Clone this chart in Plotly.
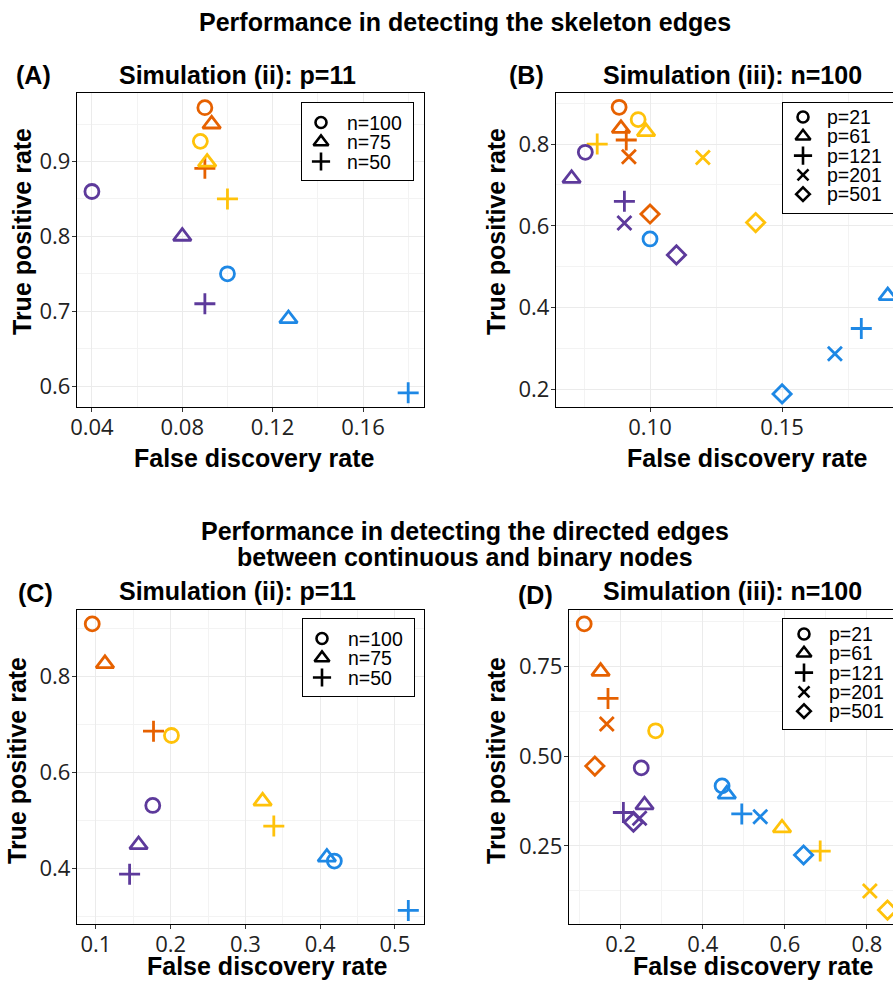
import plotly.graph_objects as go

W, H = 893, 981

# ---------------- data ----------------
method_colors = ["#E66100", "#FFC20A", "#5D3A9B", "#1E88E5"]  # orange, yellow, purple, blue

# Panel A: Simulation (ii), p=11, skeleton edges; categories n
n_labels = ["n=100", "n=75", "n=50"]
n_symbols = ["circle-open", "triangle-up-open", "cross-thin-open"]
A_fdr = [
    [0.090, 0.093, 0.090],
    [0.088, 0.091, 0.100],
    [0.040, 0.080, 0.090],
    [0.100, 0.127, 0.180],
]
A_tpr = [
    [0.972, 0.950, 0.891],
    [0.927, 0.899, 0.850],
    [0.860, 0.800, 0.710],
    [0.750, 0.690, 0.591],
]

# Panel B: Simulation (iii), n=100, skeleton edges; categories p
p_labels = ["p=21", "p=61", "p=121", "p=201", "p=501"]
p_symbols = ["circle-open", "triangle-up-open", "cross-thin-open", "x-thin-open", "diamond-open"]
B_fdr = [
    [0.0883, 0.0890, 0.0910, 0.0920, 0.1000],
    [0.0955, 0.0985, 0.0800, 0.1200, 0.1400],
    [0.0755, 0.0703, 0.0903, 0.0903, 0.1100],
    [0.1000, 0.1900, 0.1800, 0.1700, 0.1500],
]
B_tpr = [
    [0.890, 0.838, 0.810, 0.769, 0.629],
    [0.860, 0.830, 0.800, 0.767, 0.608],
    [0.780, 0.716, 0.660, 0.607, 0.529],
    [0.568, 0.429, 0.349, 0.287, 0.189],
]

# Panel C: Simulation (ii), p=11, directed edges; categories n
C_fdr = [
    [0.095, 0.112, 0.177],
    [0.201, 0.323, 0.338],
    [0.176, 0.157, 0.145],
    [0.419, 0.409, 0.518],
]
C_tpr = [
    [0.910, 0.827, 0.686],
    [0.677, 0.540, 0.488],
    [0.531, 0.449, 0.3875],
    [0.415, 0.423, 0.312],
]

# Panel D: Simulation (iii), n=100, directed edges; categories p
D_fdr = [
    [0.111, 0.151, 0.169, 0.166, 0.137],
    [0.285, 0.593, 0.686, 0.807, 0.850],
    [0.250, 0.258, 0.2065, 0.246, 0.231],
    [0.447, 0.4585, 0.495, 0.540, 0.6455],
]
D_tpr = [
    [0.867, 0.735, 0.660, 0.589, 0.472],
    [0.570, 0.300, 0.236, 0.125, 0.072],
    [0.467, 0.364, 0.343, 0.327, 0.316],
    [0.417, 0.394, 0.339, 0.331, 0.225],
]

# ---------------- helpers ----------------
def px(x):
    return x / W

def py(y):
    return 1 - y / H

plot_sizes = {"circle-open": 14, "triangle-up-open": 15.5, "cross-thin-open": 15,
              "x-thin-open": 14, "diamond-open": 14}
leg_sizes = {"circle-open": 11, "triangle-up-open": 13, "cross-thin-open": 13,
             "x-thin-open": 11, "diamond-open": 10.5}

TITLE_FONT = dict(family="Liberation Sans, Arial, sans-serif", size=25, color="black")
TICK_FONT = dict(family="Open Sans, sans-serif", size=22, color="#222222")
LEG_FONT = dict(family="Liberation Sans, Arial, sans-serif", size=19.5, color="black")

fig = go.Figure()
layout = dict(
    width=W, height=H,
    margin=dict(l=0, r=0, t=0, b=0, autoexpand=False),
    paper_bgcolor="white", plot_bgcolor="white",
    showlegend=False,
)
annotations = []

panels = [
    dict(i=1, fdr=A_fdr, tpr=A_tpr, sym=n_symbols, lab=n_labels,
         xd=(77, 424), yd=(93, 407), xr=[0.0334, 0.187], yr=[0.572, 0.9916],
         xdt=0.04, xmin=0.02, xfmt=".2f", ydt=0.1, ymin=0.05, yfmt=".1f", full=True,
         title="Simulation (ii): p=11", tpos=(237, 75), lpos=(33, 75), label="(A)",
         ytpos=(22, 232), xtpos=(254, 458),
         leg=dict(box=(302, 103, 413, 180), mx=19, tx=43, y0=19.5, dy=19.5)),
    dict(i=2, fdr=B_fdr, tpr=B_tpr, sym=p_symbols, lab=p_labels,
         xd=(556, 893), yd=(93, 407), xr=[0.0644, 0.192], yr=[0.157, 0.925],
         xdt=0.05, xmin=0.025, xfmt=".2f", ydt=0.2, ymin=0.1, yfmt=".1f", full=False,
         title="Simulation (iii): n=100", tpos=(732, 75), lpos=(526, 75), label="(B)",
         ytpos=(496, 232), xtpos=(747, 458),
         leg=dict(box=(783, 103, 893, 213), mx=20, tx=42, y0=14, dy=19.3)),
    dict(i=3, fdr=C_fdr, tpr=C_tpr, sym=n_symbols, lab=n_labels,
         xd=(77, 424), yd=(610, 924), xr=[0.0746, 0.539], yr=[0.2836, 0.939],
         xdt=0.1, xmin=0.05, xfmt=".1f", ydt=0.2, ymin=0.1, yfmt=".1f", full=True,
         title="Simulation (ii): p=11", tpos=(237, 591), lpos=(35, 593), label="(C)",
         ytpos=(17, 761), xtpos=(267, 966),
         leg=dict(box=(303, 619, 414, 696), mx=19, tx=43, y0=19.5, dy=19.5)),
    dict(i=4, fdr=D_fdr, tpr=D_tpr, sym=p_symbols, lab=p_labels,
         xd=(569, 893), yd=(610, 924), xr=[0.074, 0.8634], yr=[0.0333, 0.9056],
         xdt=0.2, xmin=0.1, xfmt=".1f", ydt=0.25, ymin=0.125, yfmt=".2f", full=False,
         title="Simulation (iii): n=100", tpos=(732, 591), lpos=(535, 595), label="(D)",
         ytpos=(496, 761), xtpos=(753, 966),
         leg=dict(box=(783, 619, 893, 729), mx=21, tx=44, y0=15, dy=19.3)),
]

for P in panels:
    i = P["i"]
    sfx = "" if i == 1 else str(i)
    xa, ya = "x" + sfx, "y" + sfx
    for m, color in enumerate(method_colors):
        for k, sym in enumerate(P["sym"]):
            fig.add_trace(go.Scatter(
                x=[P["fdr"][m][k]], y=[P["tpr"][m][k]], mode="markers",
                xaxis=xa, yaxis=ya,
                marker=dict(symbol=sym, size=plot_sizes[sym], color=color,
                            line=dict(color=color, width=2.8)),
                hoverinfo="x+y",
            ))
    common = dict(showline=True, linecolor="black", linewidth=1.3,
                  ticks="outside", ticklen=4, tickwidth=1, tickcolor="#333333",
                  showgrid=True, gridcolor="#EBEBEB", gridwidth=1, zeroline=False,
                  tickfont=TICK_FONT, fixedrange=True)
    layout["xaxis" + sfx] = dict(
        common, domain=[px(P["xd"][0]), px(P["xd"][1])], anchor=ya, range=P["xr"],
        tick0=0, dtick=P["xdt"], tickformat=P["xfmt"], mirror=True, ticklabelstandoff=-4,
        minor=dict(tick0=0, dtick=P["xmin"], showgrid=True, gridcolor="#F3F3F3", gridwidth=1),
    )
    layout["yaxis" + sfx] = dict(
        common, domain=[py(P["yd"][1]), py(P["yd"][0])], anchor=xa, range=P["yr"],
        tick0=0, dtick=P["ydt"], tickformat=P["yfmt"], mirror=P["full"], ticklabelstandoff=-3,
        minor=dict(tick0=0, dtick=P["ymin"], showgrid=True, gridcolor="#F3F3F3", gridwidth=1),
    )
    annotations.append(dict(text="<b>%s</b>" % P["title"], x=px(P["tpos"][0]), y=py(P["tpos"][1]),
                            xref="paper", yref="paper", showarrow=False, font=TITLE_FONT,
                            xanchor="center", yanchor="middle"))
    annotations.append(dict(text="<b>%s</b>" % P["label"], x=px(P["lpos"][0]), y=py(P["lpos"][1]),
                            xref="paper", yref="paper", showarrow=False, font=TITLE_FONT,
                            xanchor="center", yanchor="middle"))
    annotations.append(dict(text="<b>True positive rate</b>", x=px(P["ytpos"][0]), y=py(P["ytpos"][1]),
                            xref="paper", yref="paper", showarrow=False, font=TITLE_FONT,
                            textangle=-90, xanchor="center", yanchor="middle"))
    annotations.append(dict(text="<b>False discovery rate</b>", x=px(P["xtpos"][0]), y=py(P["xtpos"][1]),
                            xref="paper", yref="paper", showarrow=False, font=TITLE_FONT,
                            xanchor="center", yanchor="middle"))

# ---- legend boxes as inset subplots ----
for P in panels:
    j = P["i"] + 4
    L = P["leg"]
    x0, y0, x1, y1 = L["box"]
    lx, ly = "x%d" % j, "y%d" % j
    for k, (sym, lab) in enumerate(zip(P["sym"], P["lab"])):
        yy = L["y0"] + k * L["dy"]
        fig.add_trace(go.Scatter(
            x=[L["mx"]], y=[yy], mode="markers", xaxis=lx, yaxis=ly,
            marker=dict(symbol=sym, size=leg_sizes[sym], color="black",
                        line=dict(color="black", width=2.6)),
            hoverinfo="skip", cliponaxis=False,
        ))
        annotations.append(dict(text=lab, x=L["tx"], y=yy, xref=lx, yref=ly,
                                showarrow=False, font=LEG_FONT, xanchor="left", yanchor="middle"))
    box_axis = dict(showline=True, linecolor="black", linewidth=1.3, showgrid=False,
                    zeroline=False, showticklabels=False, ticks="", fixedrange=True)
    layout["xaxis%d" % j] = dict(box_axis, domain=[px(x0), px(x1)], range=[0, x1 - x0],
                                 anchor=ly, mirror=True)
    layout["yaxis%d" % j] = dict(box_axis, domain=[py(y1), py(y0)], range=[y1 - y0, 0],
                                 anchor=lx, mirror=P["full"])

# ---- section headings ----
HEAD_FONT = dict(family="Liberation Sans, Arial, sans-serif", size=25, color="black")
for text, yy in [("Performance in detecting the skeleton edges", 22),
                 ("Performance in detecting the directed edges", 531),
                 ("between continuous and binary nodes", 557)]:
    annotations.append(dict(text="<b>%s</b>" % text, x=px(465), y=py(yy), xref="paper", yref="paper",
                            showarrow=False, font=HEAD_FONT, xanchor="center", yanchor="middle"))

layout["annotations"] = annotations
fig.update_layout(**layout)
fig.write_html(
    "out.html",
    config={"displayModeBar": False},
    post_script="document.body.style.margin='0';document.body.style.overflow='hidden';",
)
